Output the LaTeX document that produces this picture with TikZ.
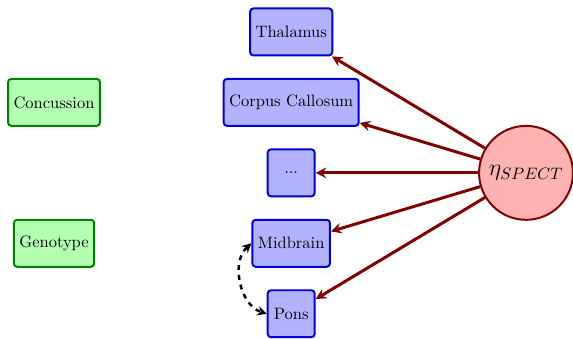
\documentclass[tikz,border=0pt]{standalone}
\usetikzlibrary{positioning}
\begin{document}
\begin{tikzpicture}[
	region/.style={draw=blue!85!black, very thick, fill=blue!30, rounded corners=2pt, minimum size=1cm},
	factor/.style={draw=green!50!black, very thick, fill=green!30, rounded corners=2pt, minimum size=1cm},
	latent/.style={circle, draw=red!50!black, very thick, fill=red!30, minimum size=2cm},
	load/.style={->, >=stealth, red!50!black, line width=1.8pt}
]
	\useasboundingbox (-1.2,-3.53) rectangle (11.0,3.68);
	% covariates
	\node[factor] (concussion) at (-0.05,1.5) {Concussion};
	\node[factor] (genotype) at (-0.05,-1.5) {Genotype};
	% regions
	\node[region] (thalamus) at (5,3) {Thalamus};
	\node[region] (callosum) at (5,1.5) {Corpus Callosum};
	\node[region] (dots) at (5,0) {...};
	\node[region] (midbrain) at (5,-1.5) {Midbrain};
	\node[region] (pons) at (5,-3) {Pons};
	% latent
	\node[latent] (eta) at (10,0) {\Large $\eta_{SPECT}$};
	
	\draw [load] (eta) -- (thalamus);
	\draw [load] (eta) -- (callosum);
	\draw [load] (eta) -- (dots);
	\draw [load] (eta) -- (midbrain);
	\draw [load] (eta) -- (pons);
	\draw [<->, >=stealth, dashed, line width=1.5pt] (midbrain.west) to [bend right=60] (pons.west);
\end{tikzpicture}
\end{document}
